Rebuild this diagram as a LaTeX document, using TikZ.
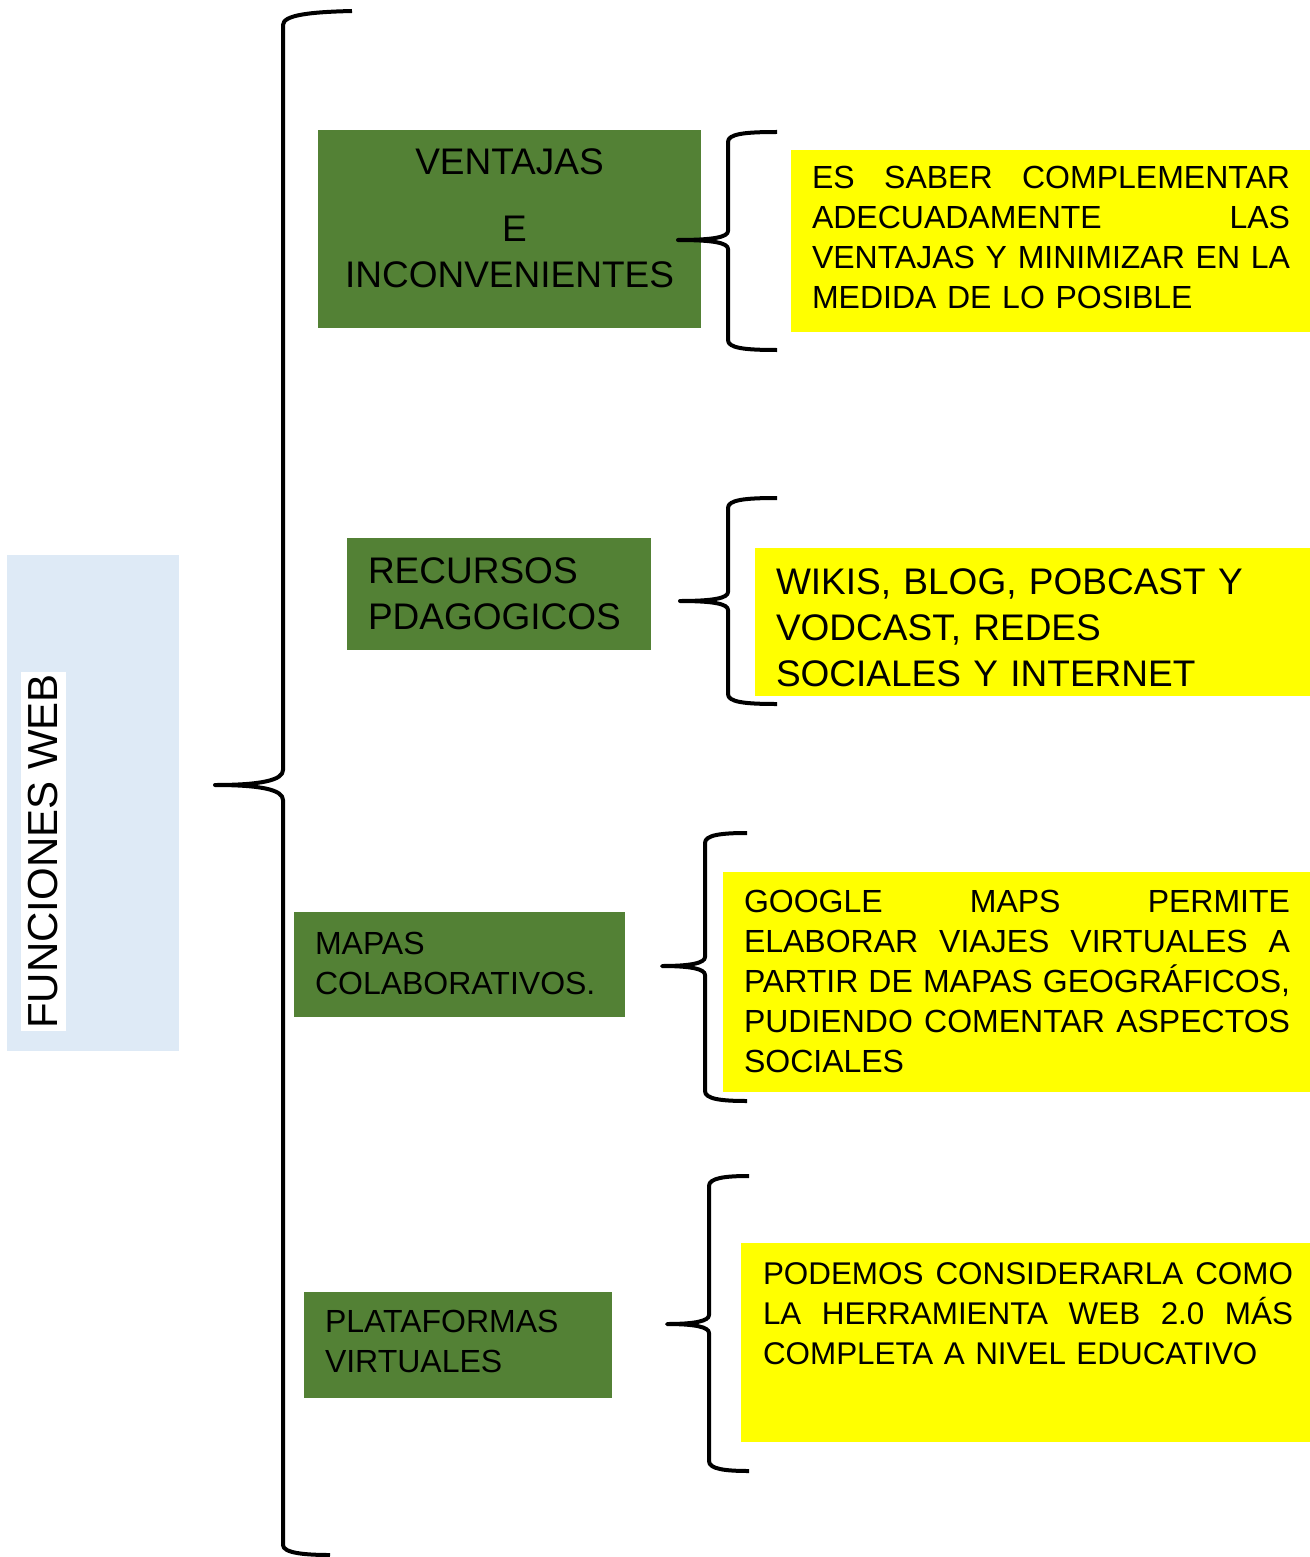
\documentclass[tikz,border=0pt]{standalone}
\usepackage{fontspec}
\setmainfont{Liberation Sans}
\definecolor{gboxc}{HTML}{538135}
\definecolor{bboxc}{HTML}{DEEAF6}
\definecolor{yboxc}{HTML}{FFFF00}
\tikzset{
  boxstyle/.style={anchor=north west, inner sep=0pt, outer sep=0pt},
  greenbox/.style={boxstyle, fill=gboxc},
  yellowbox/.style={boxstyle, fill=yboxc},
  bluebox/.style={boxstyle, fill=bboxc},
  txt/.style={anchor=base west, inner sep=0pt, outer sep=0pt, align=left},
  bracestyle/.style={draw=black, line width=2pt, line join=round},
  fsmall/.style={font=\fontsize{16}{20}\selectfont},
  fbig/.style={font=\fontsize{18.5}{23}\selectfont},
}
\newcommand\jl[2]{\leavevmode\hbox to #1{#2}}
\newcommand\bracedraw[6]{%
  \draw[bracestyle] (#1,#2) .. controls ({#3+16},#2) and (#3,{#2+2}) .. (#3,{#2+10})
    -- (#3,{#5-9}) .. controls (#3,{#5-3}) and ({#3-14},#5) .. (#4,#5)
    .. controls ({#3-14},#5) and (#3,{#5+3}) .. (#3,{#5+9})
    -- (#3,{#6-10}) .. controls (#3,{#6-2}) and ({#3+16},#6) .. (#1,#6);}
\begin{document}
\begin{tikzpicture}[x=0.5pt,y=-0.5pt]
\useasboundingbox (0,0) rectangle (1310,1557);
\fill[white] (0,0) rectangle (1310,1557);

% left box
\node[bluebox, minimum width=86pt, minimum height=248pt] (blue) at (7,555) {};
\node[fill=white, rotate=90, inner xsep=1pt, inner ysep=4pt,
      font=\fontsize{21}{25}\selectfont] (fw) at (43.5,851.5) {FUNCIONES WEB};

% big brace
\coordinate (bigtip) at (215,785);
\draw[bracestyle] (352,11) .. controls (310,12) and (283,15) .. (283,25)
  -- (283,770) .. controls (283,780) and (262,785) .. (bigtip)
  .. controls (262,785) and (283,790) .. (283,800)
  -- (283,1545) .. controls (283,1553) and (305,1555) .. (330,1555);

% green boxes
\node[greenbox, minimum width=191.5pt, minimum height=99pt] (g1) at (318,130) {};
\node[greenbox, minimum width=152pt, minimum height=56pt] (g2) at (347,538) {};
\node[greenbox, minimum width=165.5pt, minimum height=52.5pt] (g3) at (294,912) {};
\node[greenbox, minimum width=154pt, minimum height=53pt] (g4) at (304,1292) {};

\node[txt, anchor=base, align=center, text width=191.5pt, fbig] (t1) at (509.5,175)
  {VENTAJAS\\[10.5pt] \hspace*{5pt}E\\ INCONVENIENTES};
\node[txt, fbig, text width=150pt] (t2) at (368,583) {RECURSOS\\ PDAGOGICOS};
\node[txt, fsmall, text width=160pt] (t3) at (315,954) {MAPAS\\ COLABORATIVOS.};
\node[txt, fsmall, text width=150pt] (t4) at (325,1332) {PLATAFORMAS\\ VIRTUALES};

% yellow boxes
\node[yellowbox, minimum width=259.5pt, minimum height=91pt] (y1) at (791,150) {};
\node[yellowbox, minimum width=277.5pt, minimum height=74pt] (y2) at (755,548) {};
\node[yellowbox, minimum width=293.5pt, minimum height=110pt] (y3) at (723,872) {};
\node[yellowbox, minimum width=284.5pt, minimum height=99.5pt] (y4) at (741,1243) {};

\node[txt, fsmall, text width=239pt] (u1) at (812,189)
  {\jl{239pt}{ES\hfill SABER\hfill COMPLEMENTAR}\\
   \jl{239pt}{ADECUADAMENTE\hfill LAS}\\
   \jl{239pt}{VENTAJAS\hfill Y\hfill MINIMIZAR\hfill EN\hfill LA}\\
   MEDIDA DE LO POSIBLE};
\node[txt, fbig, text width=270pt] (u2) at (776,594)
  {WIKIS, BLOG, POBCAST Y\\ VODCAST, REDES\\ SOCIALES Y INTERNET};
\node[txt, fsmall, text width=273pt] (u3) at (744,912)
  {\jl{273pt}{GOOGLE\hfill MAPS\hfill PERMITE}\\
   \jl{273pt}{ELABORAR\hfill VIAJES\hfill VIRTUALES\hfill A}\\
   \jl{273pt}{PARTIR\hfill DE\hfill MAPAS\hfill GEOGRÁFICOS,}\\
   \jl{273pt}{PUDIENDO\hfill COMENTAR\hfill ASPECTOS}\\
   SOCIALES};
\node[txt, font=\fontsize{15.7}{20}\selectfont, text width=265pt] (u4) at (763,1284)
  {\jl{265pt}{PODEMOS\hfill CONSIDERARLA\hfill COMO}\\
   \jl{265pt}{LA\hfill HERRAMIENTA\hfill WEB\hfill 2.0\hfill MÁS}\\
   COMPLETA A NIVEL EDUCATIVO};

% small braces
\coordinate (tip1) at (678,240);
\coordinate (tip2) at (680,601);
\coordinate (tip3) at (662,966);
\coordinate (tip4) at (667,1324);
\bracedraw{777}{132}{728}{678}{240}{350}
\bracedraw{777}{498}{728}{680}{601}{704}
\bracedraw{747}{833}{705}{662}{966}{1101}
\bracedraw{749}{1176}{709}{667}{1324}{1471}
\end{tikzpicture}
\end{document}
